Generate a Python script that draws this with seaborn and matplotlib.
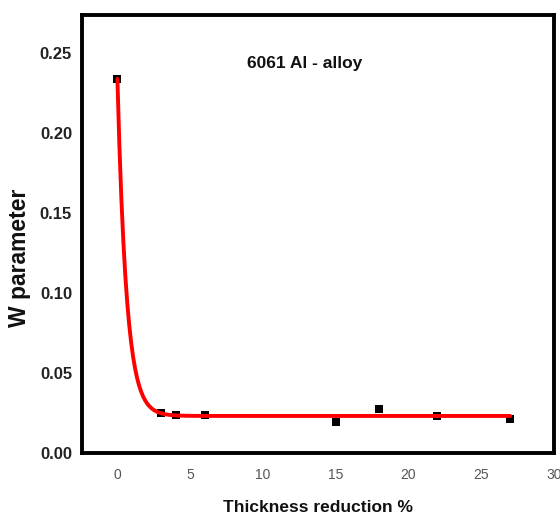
import numpy as np
import pandas as pd
import matplotlib
matplotlib.use("Agg")
import matplotlib.pyplot as plt
import seaborn as sns

# Measured W parameter against thickness reduction
reduction = [0, 3, 4, 6, 15, 18, 22, 27]
w_param = [0.234, 0.025, 0.0241, 0.0236, 0.0194, 0.0273, 0.0232, 0.0213]

# First-order exponential decay fit: y = y0 + A * exp(-x / t1)
fit_y0 = 0.0232
fit_A = 0.2108
fit_t1 = 0.62

x_ticks = [0, 5, 10, 15, 20, 25, 30]
y_ticks = [0.00, 0.05, 0.10, 0.15, 0.20, 0.25]

sns.set_style("white")
plt.rcParams["font.family"] = ["Liberation Sans", "DejaVu Sans"]

fig = plt.figure(figsize=(5.6, 5.16), dpi=100)
ax = fig.add_axes([0.146, 0.122, 0.843, 0.849])

points = pd.DataFrame({"reduction": reduction, "w": w_param})
sns.scatterplot(data=points, x="reduction", y="w", ax=ax, marker="s",
                s=40, color="black", edgecolor="black", linewidth=0, zorder=2)

xs = np.linspace(min(reduction), max(reduction), 400)
fit = pd.DataFrame({"reduction": xs,
                    "w": fit_y0 + fit_A * np.exp(-xs / fit_t1)})
sns.lineplot(data=fit, x="reduction", y="w", ax=ax, color="#ff0000",
             linewidth=2.8, zorder=3)

ax.set_xlim(-2.45, 30)
ax.set_ylim(0, 0.274)
ax.set_xticks(x_ticks)
ax.set_yticks(y_ticks)
ax.set_xticklabels([str(t) for t in x_ticks], fontsize=10, color="#555555")
ax.set_yticklabels([f"{t:.2f}" for t in y_ticks], fontsize=12,
                   fontweight="bold", color="#222222")
ax.tick_params(axis="both", length=0)
ax.tick_params(axis="x", pad=11)
ax.tick_params(axis="y", pad=7)

for side in ["left", "right", "top", "bottom"]:
    ax.spines[side].set_visible(True)
    ax.spines[side].set_color("black")
    ax.spines[side].set_linewidth(2.8)

ax.set_xlabel("Thickness reduction %", fontsize=12.5, fontweight="bold",
              color="#111111", labelpad=12.5)
ax.set_ylabel("W parameter", fontsize=16.5, fontweight="bold",
              color="#111111")
ax.yaxis.set_label_coords(-0.107, 0.445)

ax.text(12.9, 0.2437, "6061 Al - alloy", ha="center", va="center",
        fontsize=12.5, fontweight="bold", color="#111111")

fig.savefig("out.png", dpi=100)
